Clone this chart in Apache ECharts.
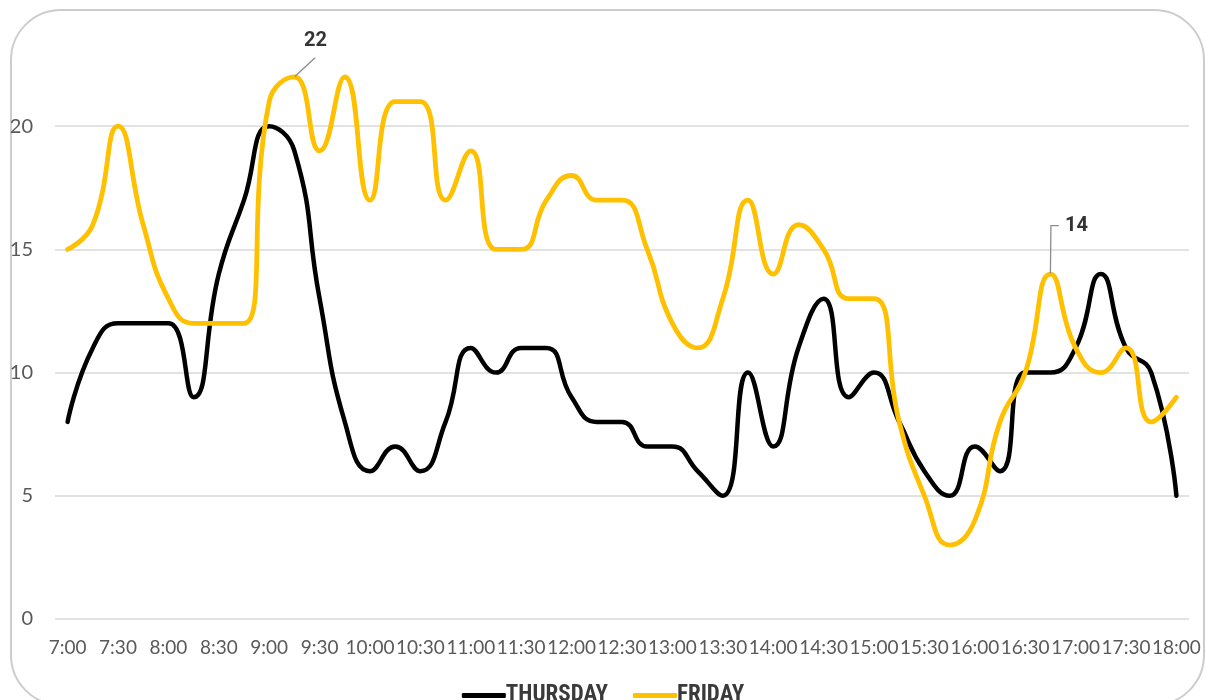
<!DOCTYPE html>
<html>
<head>
<meta charset="utf-8">
<script src="https://cdn.jsdelivr.net/npm/echarts@6/dist/echarts.min.js"></script>
<style>
  html, body { margin: 0; padding: 0; background: #ffffff; }
  #chart { width: 1206px; height: 700px; }
</style>
</head>
<body>
<div id="chart"></div>
<script>
// Quarter-hour time slots, 7:00 to 18:00
const times = [
  '7:00','7:15','7:30','7:45','8:00','8:15','8:30','8:45','9:00','9:15',
  '9:30','9:45','10:00','10:15','10:30','10:45','11:00','11:15','11:30','11:45',
  '12:00','12:15','12:30','12:45','13:00','13:15','13:30','13:45','14:00','14:15',
  '14:30','14:45','15:00','15:15','15:30','15:45','16:00','16:15','16:30','16:45',
  '17:00','17:15','17:30','17:45','18:00'
];

const thursday = [
  8, 11, 12, 12, 12, 9, 14, 17, 20, 19,
  13, 8, 6, 7, 6, 8, 11, 10, 11, 11,
  9, 8, 8, 7, 7, 6, 5, 10, 7, 11,
  13, 9, 10, 8, 6, 5, 7, 6, 10, 10,
  11, 14, 11, 10, 5
];

const friday = [
  15, 16, 20, 16, 13, 12, 12, 12, 21, 22,
  19, 22, 17, 21, 21, 17, 19, 15, 15, 17,
  18, 17, 17, 15, 12, 11, 13, 17, 14, 16,
  15, 13, 13, 8, 5, 3, 4, 8, 10, 14,
  11, 10, 11, 8, 9
];

// Friday slots whose value gets a callout
const peakCallout = 9;    // 9:15
const lateCallout = 39;   // 16:45

const yMin = 0, yMax = 25, yStep = 5;

const axisFont = 'Lato, "Open Sans", sans-serif';
const calloutFont = 'Roboto, sans-serif';
const boxFill = '#ffffff';

// Only the called-out points carry a (tiny, line-coloured) symbol that hosts the label
function fridayData() {
  return friday.map(function (v, i) {
    if (i === peakCallout) {
      // diagonal leader ending just under the label
      return {
        value: v,
        symbol: 'circle',
        symbolSize: 1,
        label: { show: true, padding: [0, 0, 6, 0], backgroundColor: boxFill },
        labelLine: { show: true, length2: 0 }
      };
    }
    if (i === lateCallout) {
      // leader rises straight up, then a short step into the label
      return {
        value: v,
        symbol: 'circle',
        symbolSize: 1,
        label: { show: true, padding: [0, 70, 0, 6], backgroundColor: boxFill },
        labelLine: { show: true, length2: 8 }
      };
    }
    return v;
  });
}

const chart = echarts.init(document.getElementById('chart'), null, { renderer: 'canvas' });

chart.setOption({
  backgroundColor: '#ffffff',
  animation: false,
  graphic: [{
    type: 'rect',
    silent: true,
    z: -10,
    shape: { x: 11, y: 10, width: 1193, height: 695, r: 50 },
    style: { fill: 'none', stroke: '#cdcdcd', lineWidth: 2 }
  }],
  grid: { left: 55, right: 17, top: 3, bottom: 81, containLabel: false },
  legend: {
    data: ['THURSDAY', 'FRIDAY'],
    top: 679,
    left: 'center',
    icon: 'roundRect',
    itemWidth: 44,
    itemHeight: 5,
    itemGap: 25,
    textStyle: {
      fontFamily: '"Liberation Sans Narrow", "Roboto Condensed", Roboto, sans-serif',
      fontWeight: 'bold',
      fontSize: 23,
      color: '#3a3a3a',
      padding: [0, 0, 0, -5]
    }
  },
  xAxis: {
    type: 'category',
    data: times,
    boundaryGap: true,
    axisLine: { show: false },
    axisTick: { show: false },
    axisLabel: {
      interval: 1,
      margin: 19,
      showMinLabel: true,
      showMaxLabel: true,
      hideOverlap: false,
      fontFamily: axisFont,
      fontSize: 19,
      color: '#595959'
    },
    splitLine: { show: false }
  },
  yAxis: {
    type: 'value',
    min: yMin,
    max: yMax,
    interval: yStep,
    axisLine: { show: false },
    axisTick: { show: false },
    axisLabel: {
      margin: 22,
      showMaxLabel: false,
      fontFamily: axisFont,
      fontSize: 20,
      color: '#595959'
    },
    splitLine: {
      show: true,
      lineStyle: {
        color: ['#d9d9d9', '#d9d9d9', '#d9d9d9', '#d9d9d9', '#d9d9d9', 'rgba(0,0,0,0)'],
        width: 1.5
      }
    }
  },
  series: [
    {
      name: 'THURSDAY',
      type: 'line',
      data: thursday,
      smooth: 0.5,
      showSymbol: false,
      symbol: 'none',
      color: '#000000',
      lineStyle: { color: '#000000', width: 4.5, cap: 'round', join: 'round' },
      emphasis: { disabled: true }
    },
    {
      name: 'FRIDAY',
      type: 'line',
      data: fridayData(),
      smooth: 0.5,
      showSymbol: true,
      symbol: 'none',
      color: '#FFC000',
      itemStyle: { color: '#FFC000', borderWidth: 0 },
      lineStyle: { color: '#FFC000', width: 4.8, cap: 'round', join: 'round' },
      label: {
        show: false,
        position: 'top',
        fontFamily: calloutFont,
        fontWeight: 'bold',
        fontSize: 20,
        color: '#333333'
      },
      labelLine: {
        show: false,
        minTurnAngle: 0,
        lineStyle: { color: '#8c8c8c', width: 1.3 }
      },
      labelLayout: function (p) {
        if (p.dataIndex === peakCallout) return { dx: 21, dy: -14 };
        if (p.dataIndex === lateCallout) return { dx: 58, dy: -33 };
        return {};
      },
      emphasis: { disabled: true }
    }
  ]
});
</script>
</body>
</html>
